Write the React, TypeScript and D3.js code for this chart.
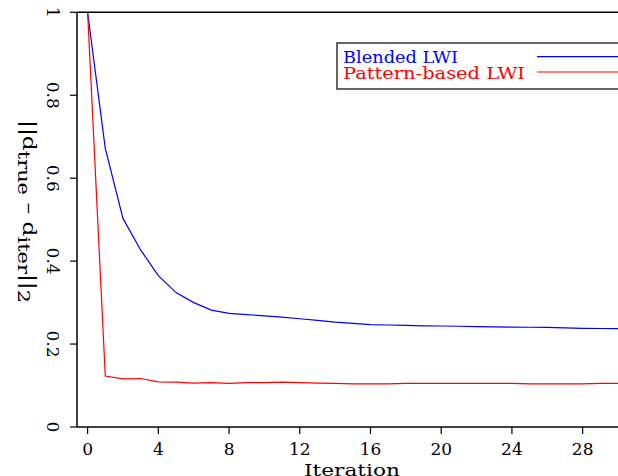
import React from "react";
import * as d3 from "d3";

const iterations: number[] = d3.range(0, 31);
const blended: number[] = [1.0, 0.672, 0.503, 0.427, 0.365, 0.324, 0.3, 0.282, 0.274, 0.271, 0.268, 0.265, 0.261, 0.257, 0.253, 0.25, 0.247, 0.246, 0.245, 0.244, 0.2435, 0.243, 0.242, 0.2415, 0.241, 0.2405, 0.24, 0.239, 0.238, 0.2375, 0.237];
const pattern: number[] = [1.0, 0.123, 0.116, 0.117, 0.109, 0.108, 0.106, 0.107, 0.105, 0.107, 0.107, 0.108, 0.107, 0.106, 0.105, 0.104, 0.104, 0.104, 0.105, 0.105, 0.105, 0.105, 0.105, 0.105, 0.105, 0.104, 0.104, 0.104, 0.104, 0.105, 0.105];
const xTicks: number[] = [0, 4, 8, 12, 16, 20, 24, 28];
const yTicks: number[] = [0, 0.2, 0.4, 0.6, 0.8, 1];
const seriesNames: string[] = ["Blended LWI", "Pattern-based LWI"];
const seriesColors: string[] = ["#0000ff", "#ff0000"];

const W = 618, H = 476;
const left = 77, right = 618, top = 12.3, bottom = 427;
const FONT = "DejaVu Serif";

export default function App() {
  const x = d3.scaleLinear().domain([-0.6, 30]).range([left, right]);
  const y = d3.scaleLinear().domain([0, 1]).range([bottom, top]);
  const line = d3.line<number>().x((_, i) => x(iterations[i])).y((d) => y(d));
  const series = [blended, pattern];
  return (
    <svg width={W} height={H} style={{ position: "absolute", left: 0, top: 0, background: "#fff" }} fontFamily={FONT}>
      {series.map((s, k) => (
        <path key={k} d={line(s) || ""} fill="none" stroke={seriesColors[k]} strokeWidth={1.2} />
      ))}
      {/* axes */}
      <line x1={left} x2={left} y1={top} y2={bottom} stroke="#000" strokeWidth={1.5} />
      <line x1={left} x2={right} y1={bottom} y2={bottom} stroke="#000" strokeWidth={1.5} />
      <line x1={left} x2={right} y1={top} y2={top} stroke="#000" strokeWidth={1.5} />
      {yTicks.map((t) => (
        <g key={t}>
          <line x1={left - 7} x2={left} y1={y(t)} y2={y(t)} stroke="#000" strokeWidth={1.2} />
          <text transform={`translate(${47},${y(t)}) rotate(90)`} textAnchor="middle" fontSize={17} fill="#000">
            {String(t)}
          </text>
        </g>
      ))}
      {xTicks.map((t) => (
        <g key={t}>
          <line x1={x(t)} x2={x(t)} y1={bottom} y2={bottom + 7} stroke="#000" strokeWidth={1.2} />
          <text x={x(t)} y={455} textAnchor="middle" fontSize={17} fill="#000">
            {String(t)}
          </text>
        </g>
      ))}
      <text x={304} y={476} fontSize={17} fill="#000" textLength={96} lengthAdjust="spacingAndGlyphs">Iteration</text>
      <text transform={`translate(${23},${120}) rotate(90)`} fontSize={18} fill="#000" textLength={183} lengthAdjust="spacingAndGlyphs">
        <tspan>||d</tspan>
        <tspan dy={5} fontSize={16}>true</tspan>
        <tspan dy={-5}> – d</tspan>
        <tspan dy={5} fontSize={16}>iter</tspan>
        <tspan dy={-5}>||</tspan>
        <tspan dy={5} fontSize={16}>2</tspan>
      </text>
      {/* legend */}
      <rect x={337} y={43} width={300} height={46} fill="#fff" stroke="#000" strokeWidth={1.2} />
      {seriesNames.map((n, k) => (
        <g key={n}>
          <text x={343} y={63 + k * 15.5} fontSize={16} fill={seriesColors[k]} textLength={k === 0 ? 115 : 182} lengthAdjust="spacingAndGlyphs">
            {n}
          </text>
          <line x1={537} x2={620} y1={56.7 + k * 15.3} y2={56.7 + k * 15.3} stroke={seriesColors[k]} strokeWidth={1.2} />
        </g>
      ))}
    </svg>
  );
}
